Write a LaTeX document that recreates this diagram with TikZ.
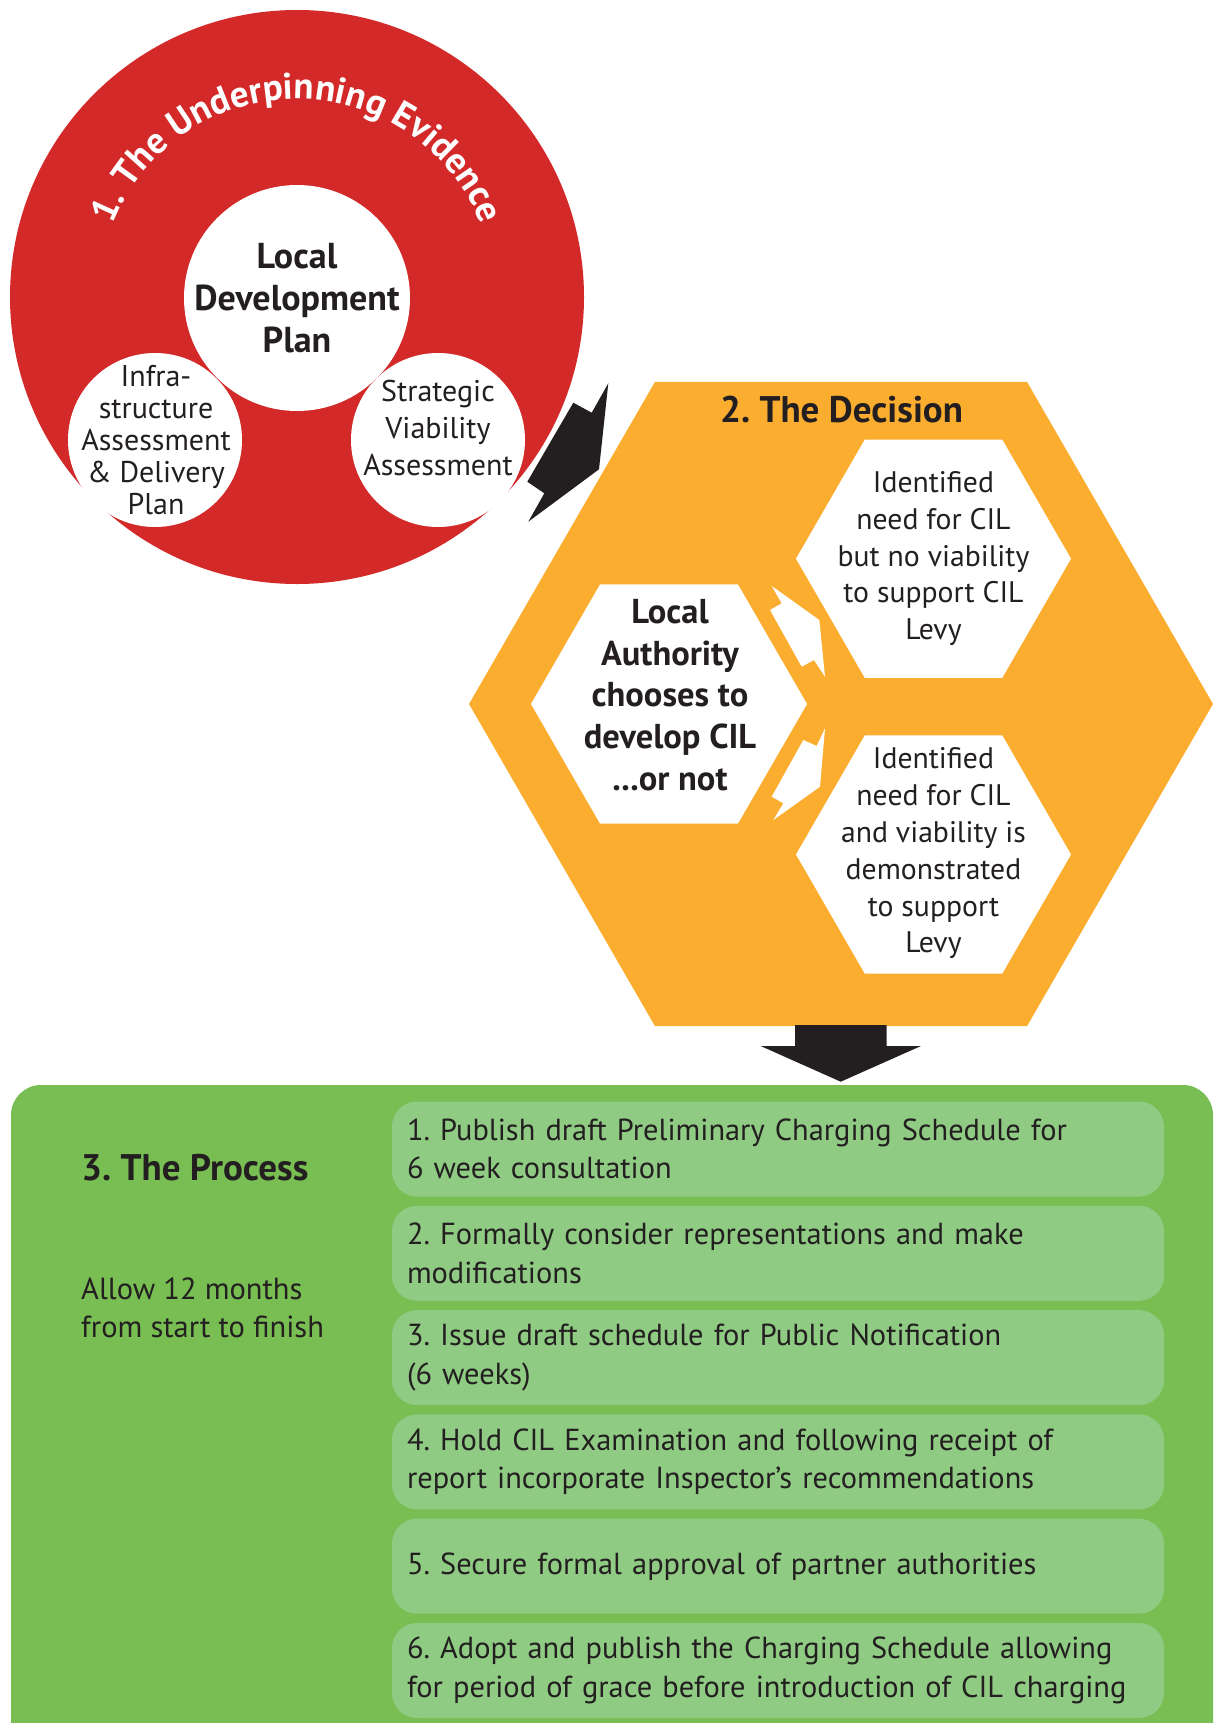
\documentclass[tikz,border=0pt]{standalone}
\usepackage{fontspec}
\setmainfont{PT Sans}
\usetikzlibrary{decorations.text}
\frenchspacing
\definecolor{evred}{RGB}{211,41,41}
\definecolor{decorange}{RGB}{251,173,48}
\definecolor{procgreen}{RGB}{120,190,83}
\definecolor{steplight}{RGB}{143,203,131}
\definecolor{ink}{RGB}{35,31,32}
\tikzset{%
  boldtext/.style={text=ink, align=center, inner sep=0pt,
    font=\fontsize{34.5}{41.7}\selectfont\bfseries},%
  circtext/.style={text=ink, align=center, inner sep=0pt,
    font=\fontsize{30}{32}\selectfont},%
  hextext/.style={text=ink, align=center, inner sep=0pt,
    font=\fontsize{29.7}{36.8}\selectfont},%
  headtext/.style={text=ink, inner sep=0pt,
    font=\fontsize{37}{42}\selectfont\bfseries},%
  stepbox/.style={fill=steplight, rounded corners=25pt, text=ink,
    minimum width=772pt, minimum height=95pt, text width=742pt,
    inner xsep=15pt, inner ysep=0pt, align=left,
    font=\fontsize{30.4}{38.5}\selectfont}%
}
\newcommand{\hexa}[3]{% colour, centre, radius
  \fill[#1] (#2) ++(0:#3) -- ++(120:#3) -- ++(180:#3) -- ++(240:#3)
    -- ++(300:#3) -- ++(0:#3) -- cycle;
}
\begin{document}
\begin{tikzpicture}[x=1pt,y=1pt]
  \useasboundingbox (0,0) rectangle (1216,-1723);
  % coordinates
  \coordinate (ev)  at (297,-297);
  \coordinate (dec) at (841,-704);
  \coordinate (lh)  at (669,-704);
  \coordinate (uh)  at (933.5,-558.7);
  \coordinate (bh)  at (933.5,-854.5);
  % 1. evidence
  \fill[evred] (ev) circle (287);
  \fill[white] (297,-298) circle (113);
  \fill[white] (155,-440) circle (87);
  \fill[white] (438,-440) circle (87);
  \path[decorate, decoration={text along path, text align=center,
      text color=white,
      text={|\fontsize{37}{40}\selectfont\bfseries|1. The Underpinning Evidence}}]
    (ev) ++(160:198) arc[start angle=160, end angle=20, radius=198];
  \node[boldtext, font=\fontsize{36}{41.7}\selectfont\bfseries] (ldp)
    at (297,-298) {Local\\Development\\Plan};
  \node[circtext] (ida) at (156,-440.5)
    {Infra-\\structure\\Assessment\\\& Delivery\\Plan};
  \node[circtext, font=\fontsize{30}{36.6}\selectfont] (sva) at (438,-428)
    {Strategic\\Viability\\Assessment};
  % arrow 1 -> 2
  \fill[ink] (608.3,-383.3) -- (591.7,-412.7) -- (573.3,-402.7)
    -- (527.3,-481.7) -- (544.3,-493.3) -- (528.3,-521.7) -- (599,-469.3) -- cycle;
  % 2. decision
  \hexa{decorange}{dec}{372}
  \hexa{white}{lh}{138}
  \hexa{white}{uh}{137.5}
  \hexa{white}{bh}{137.5}
  \node[headtext] (dect) at (841.5,-409.7) {2. The Decision};
  \node[boldtext] (la) at (670,-695)
    {Local\\Authority\\chooses to\\develop CIL\\...or not};
  \node[hextext] (nov) at (933.5,-558.6)
    {Identified\\need for CIL\\but no viability\\to support CIL\\Levy};
  \node[hextext] (yesv) at (933.5,-853.5)
    {Identified\\need for CIL\\and viability is\\demonstrated\\to support\\Levy};
  \fill[white] (771.7,-586) -- (819.3,-620) -- (825,-676.7) -- (814,-660)
    -- (801.7,-666.7) -- (770,-610) -- (781.7,-603.3) -- cycle;
  \fill[white] (825,-728.3) -- (820,-786.7) -- (773.3,-820) -- (783.3,-803.3)
    -- (771.7,-796.7) -- (803.3,-740) -- (816.7,-746) -- cycle;
  % arrow 2 -> 3
  \fill[ink] (795,-1025) -- (795,-1046) -- (760.7,-1046) -- (840.7,-1081.7)
    -- (921,-1046) -- (886.7,-1046) -- (886.7,-1025) -- cycle;
  % 3. process
  \begin{scope}
    \clip (0,0) rectangle (1216,-1723);
    \fill[procgreen, rounded corners=30pt] (11,-1085) rectangle (1213,-1760);
  \end{scope}
  \node[headtext, anchor=west] (proc) at (81,-1168) {3. The Process};
  \node[hextext, align=left, anchor=west, font=\fontsize{30.5}{38.5}\selectfont]
    (allow) at (81,-1308) {Allow 12 months\\from start to finish};
  \foreach \t [count=\k] in {%
      {1. Publish draft Preliminary Charging Schedule for\\6 week consultation},
      {2. Formally consider representations and make\\modifications},
      {3. Issue draft schedule for Public Notification\\(6 weeks)},
      {4. Hold CIL Examination and following receipt of\\report incorporate Inspector’s recommendations},
      {5. Secure formal approval of partner authorities},
      {6. Adopt and publish the Charging Schedule allowing\\for period of grace before introduction of CIL charging}}
    \node[stepbox] (step\k) at (778,-1149-104.3*\k+104.3) {\t};
\end{tikzpicture}
\end{document}
